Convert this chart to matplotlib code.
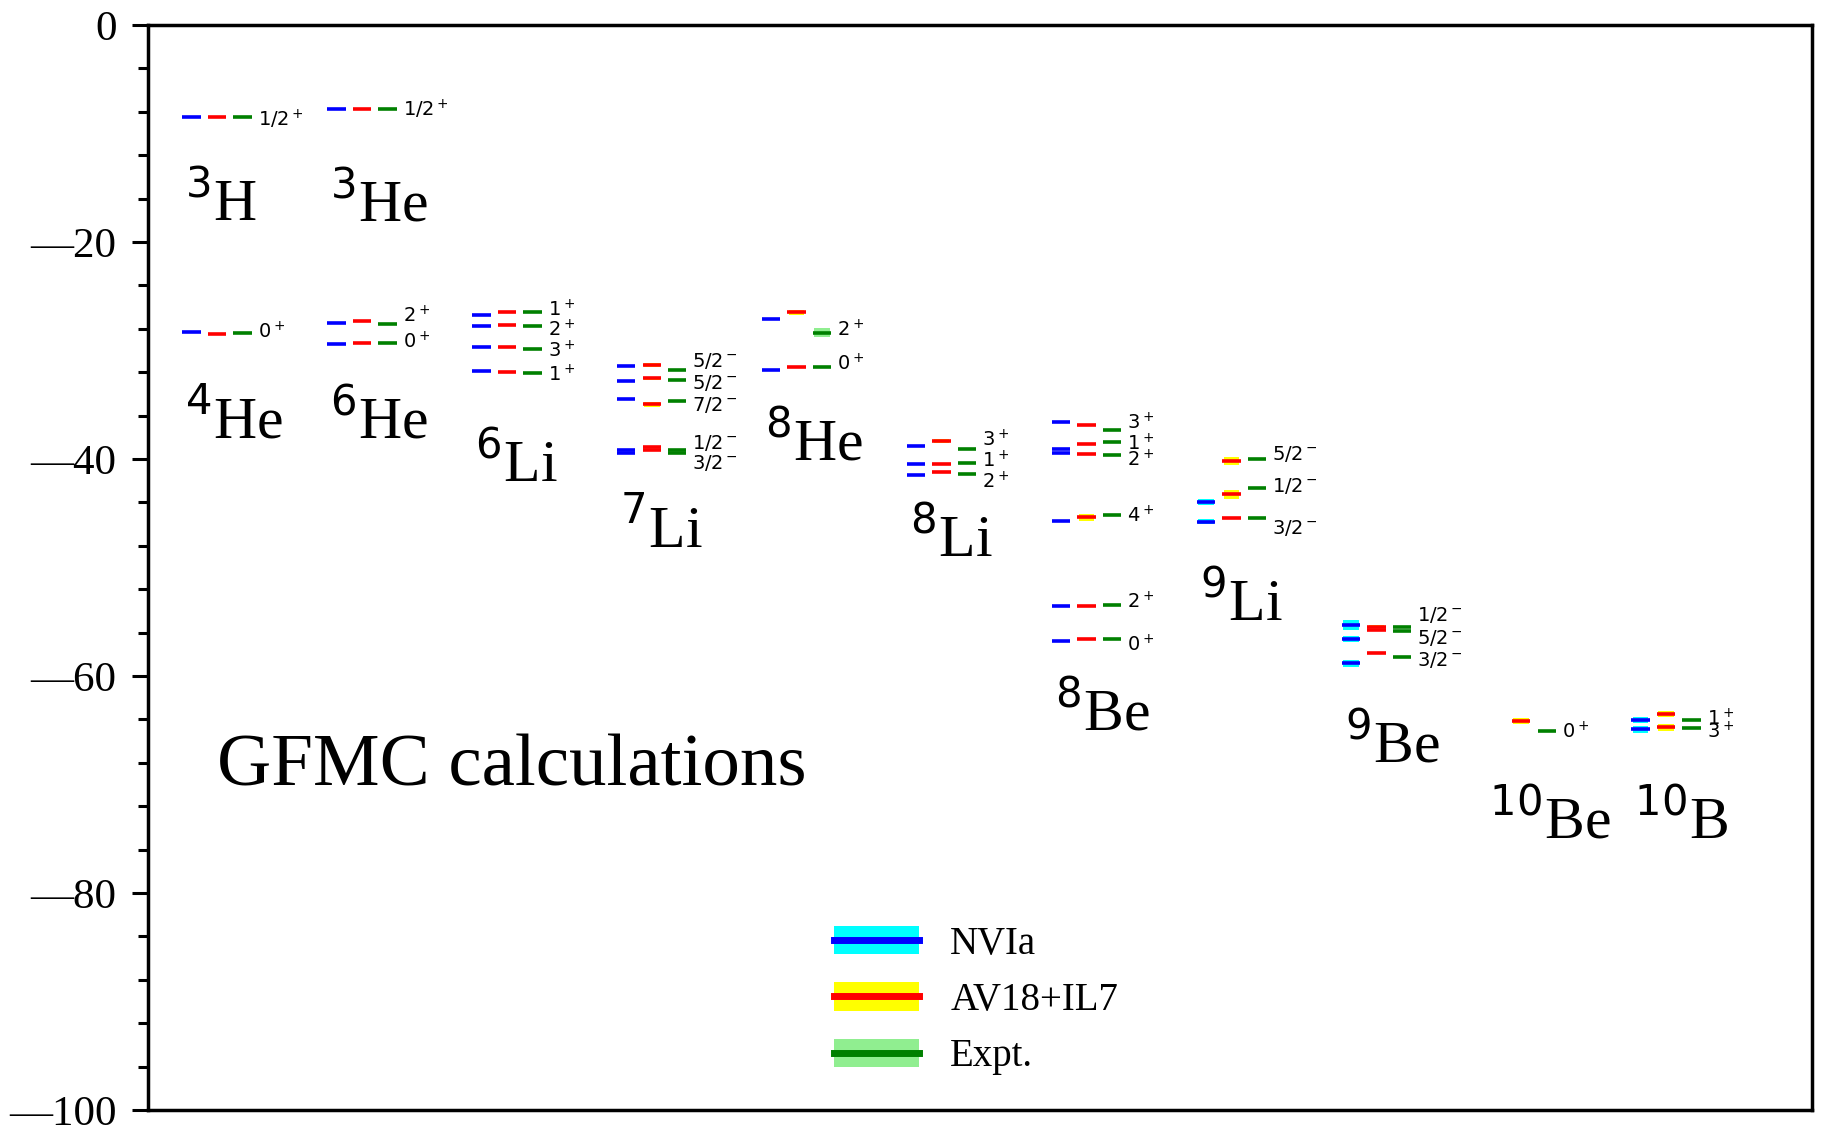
import numpy as np
import matplotlib
matplotlib.use('Agg')
import matplotlib.pyplot as plt
from matplotlib.patches import Patch, Rectangle
from matplotlib.lines import Line2D
from matplotlib.ticker import FuncFormatter

plt.rcParams['font.family'] = ['Liberation Serif', 'DejaVu Serif']
plt.rcParams['mathtext.fontset'] = 'dejavusans'

nan = np.nan

# nuclei, which column they sit in, and where the big name goes
nuclei = ['3H', '3He', '4He', '6He', '6Li', '7Li', '8He', '8Li', '8Be', '9Li', '9Be', '10Be', '10B']
column = [0, 1, 0, 1, 2, 3, 4, 5, 6, 7, 8, 9, 10]
name_y = [-18.1, -18.1, -38.1, -38.1, -42.1, -48.2, -40.1, -49.0, -65.0, -54.9, -68.0, -75.0, -75.0]

# spin/parity of each level
spins = [
    ['1/2$^+$'],
    ['1/2$^+$'],
    ['0$^+$'],
    ['2$^+$', '0$^+$'],
    ['1$^+$', '2$^+$', '3$^+$', '1$^+$'],
    ['5/2$^-$', '5/2$^-$', '7/2$^-$', '1/2$^-$', '3/2$^-$'],
    ['2$^+$', '0$^+$'],
    ['3$^+$', '1$^+$', '2$^+$'],
    ['3$^+$', '1$^+$', '2$^+$', '4$^+$', '2$^+$', '0$^+$'],
    ['5/2$^-$', '1/2$^-$', '3/2$^-$'],
    ['1/2$^-$', '5/2$^-$', '3/2$^-$'],
    ['0$^+$'],
    ['1$^+$', '3$^+$'],
]
spin_y = [
    [-8.7], [-7.8], [-28.3], [-26.8, -29.2],
    [-26.2, -28.1, -30.0, -32.2],
    [-31.0, -33.0, -35.0, -38.5, -40.4],
    [-28.1, -31.2],
    [-38.2, -40.2, -42.1],
    [-36.7, -38.6, -40.1, -45.2, -53.2, -57.1],
    [-39.5, -42.5, -46.4],
    [-54.4, -56.5, -58.5],
    [-65.1],
    [-63.9, -65.1],
]

# NVIa energies (MeV) and errors
nvia_E = [
    [-8.5], [-7.75], [-28.3], [-27.44, -29.37],
    [-26.70, -27.74, -29.68, -31.86],
    [-31.43, -32.81, -34.50, -39.20, -39.45],
    [-27.12, -31.80],
    [-38.80, -40.49, -41.47],
    [-36.59, -39.11, -39.42, -45.71, -53.55, -56.77],
    [nan, -43.96, -45.78],
    [-55.33, -56.59, -58.83],
    [nan],
    [-64.06, -64.91],
]
nvia_err = [
    [0], [0], [0], [0, 0], [0, 0, 0, 0], [0, 0, 0, 0, 0], [0, 0], [0, 0, 0],
    [0, 0, 0, 0, 0, 0], [0, 0.25, 0.25], [0.46, 0.28, 0.3], [0], [0.3, 0.3],
]

# AV18+IL7 energies and errors
av18_E = [
    [-8.5], [-7.75], [-28.45], [-27.28, -29.28],
    [-26.48, -27.68, -29.65, -31.98],
    [-31.34, -32.56, -34.96, -38.90, -39.15],
    [-26.48, -31.49],
    [-38.31, -40.49, -41.23],
    [-36.89, -38.59, -39.57, -45.37, -53.55, -56.56],
    [-40.18, -43.25, -45.47],
    [-55.46, -55.76, -57.91],
    [-64.15],
    [-63.50, -64.73],
]
av18_err = [
    [0], [0], [0], [0, 0], [0, 0, 0, 0], [0.15, 0.12, 0.2, 0, 0], [0.2, 0], [0.2, 0, 0],
    [0, 0, 0, 0.3, 0, 0], [0.41, 0.41, 0], [0.15, 0, 0], [0.28], [0.3, 0.3],
]

# experiment
expt_E = [
    [-8.48], [-7.72], [-28.40], [-27.53, -29.34],
    [-26.42, -27.74, -29.89, -32.07],
    [-31.82, -32.69, -34.65, -39.17, -39.45],
    [-28.36, -31.49],
    [-39.08, -40.34, -41.35],
    [-37.33, -38.43, -39.66, -45.19, -53.46, -56.59],
    [-40.03, -42.70, -45.41],
    [-55.46, -55.82, -58.22],
    [-65.04],
    [-64.08, -64.79],
]
expt_err = [
    [0], [0], [0], [0, 0], [0, 0, 0, 0], [0, 0, 0, 0, 0], [0.43, 0], [0, 0, 0],
    [0, 0, 0, 0, 0, 0], [0, 0, 0], [0, 0, 0], [0], [0, 0],
]

series = [
    ('NVIa', nvia_E, nvia_err, 'blue', 'cyan', 0.0),
    ('AV18+IL7', av18_E, av18_err, 'red', 'yellow', 0.176),
    ('Expt.', expt_E, expt_err, 'green', 'lightgreen', 0.352),
]
dash_w = 0.127

fig = plt.figure(figsize=(18.27, 11.33), dpi=100)
ax = fig.add_axes([0.081, 0.0203, 0.9108, 0.9576])

for k, name in enumerate(nuclei):
    c = column[k]
    for label, E, err, col, band, off in series:
        for e, de in zip(E[k], err[k]):
            if np.isnan(e):
                continue
            x0 = c + off
            if de > 0:
                ax.add_patch(Rectangle((x0 + 0.01, e - de), dash_w - 0.02, 2 * de,
                                       facecolor=band, edgecolor='none', zorder=1))
            ax.hlines(e, x0, x0 + dash_w, colors=col, lw=2.6, zorder=2)
    for s, sy in zip(spins[k], spin_y[k]):
        ax.text(c + 0.52, sy, s, fontsize=14, family='DejaVu Sans', va='center', ha='left')
    A = ''.join(ch for ch in name if ch.isdigit())
    el = ''.join(ch for ch in name if not ch.isdigit())
    ax.text(c + 0.02, name_y[k], r'$^{%s}$%s' % (A, el), fontsize=43, ha='left', va='baseline')

ax.text(0.24, -70.1, 'GFMC calculations', fontsize=54, ha='left', va='baseline')

handles = [(Patch(facecolor=band, edgecolor='none'), Line2D([], [], color=col, lw=5))
           for label, E, err, col, band, off in series]
ax.legend(handles, [s[0] for s in series], loc='upper left', bbox_to_anchor=(0.412, 0.170),
          frameon=False, fontsize=28, handlelength=2.2, handleheight=0.75,
          handletextpad=0.8, labelspacing=0.5, borderpad=0, borderaxespad=0)

ax.set_xlim(-0.237, 11.246)
ax.set_ylim(-100, 0)
ax.set_xticks([])
ax.set_yticks(np.arange(-100, 1, 20))
ax.set_yticks(np.arange(-100, 1, 4), minor=True)
ax.yaxis.set_major_formatter(FuncFormatter(
    lambda v, pos: ('\u2014%d' % abs(v)) if v < 0 else '%d' % v))
ax.tick_params(axis='y', which='major', length=11.5, width=2.2, labelsize=31, pad=11)
ax.tick_params(axis='y', which='minor', length=7.5, width=2.2)
for sp in ax.spines.values():
    sp.set_linewidth(2.5)

fig.savefig('out.png', dpi=100)
